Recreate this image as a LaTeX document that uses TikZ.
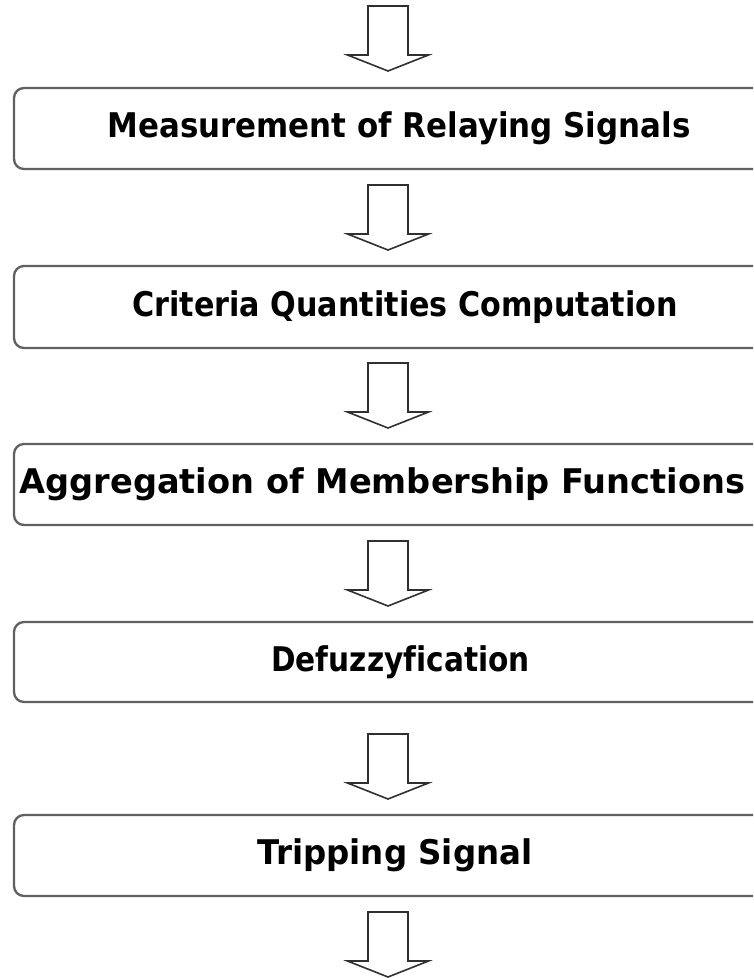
\documentclass[tikz,border=0pt]{standalone}
\usepackage{fontspec}
\setmainfont{DejaVu Sans}[Ligatures=NoCommon]
\usepackage{graphicx}
\definecolor{boxgray}{HTML}{606060}
\definecolor{arrowgray}{HTML}{303030}
\begin{document}
\begin{tikzpicture}[x=1pt,y=-1pt,
  stage/.style={draw=boxgray, line width=2.3pt, rounded corners=10pt,
    minimum width=762pt, minimum height=81pt, inner sep=0pt},
  caption/.style={inner sep=0pt, font=\fontsize{34}{40}\selectfont\bfseries},
  flow/.pic={\draw[arrowgray, line width=1.6pt, fill=white, line join=miter]
    (-20,0) -- (20,0) -- (20,49) -- (40.5,49) -- (0,65) -- (-40.5,49) -- (-20,49) -- cycle;}]
\useasboundingbox (0,0) rectangle (753,980);
\clip (0,0) rectangle (753,980);
\fill[white] (0,0) rectangle (753,980);

\node[stage] (b1) at (395,128.5) {};
\node[stage, minimum height=82pt] (b2) at (395,307) {};
\node[stage] (b3) at (395,484.5) {};
\node[stage, minimum height=80pt] (b4) at (395,662) {};
\node[stage] (b5) at (395,855.5) {};

\node[caption] (t1) at ([xshift=4pt]b1.center) {\scalebox{0.909}[1]{Measurement of Relaying Signals}};
\node[caption] (t2) at ([xshift=10pt]b2.center) {\scalebox{0.888}[1]{Criteria Quantities Computation}};
\node[caption] (t3) at ([xshift=-12.5pt]b3.center) {\scalebox{0.989}[1]{Aggregation of Membership Functions}};
\node[caption] (t4) at ([xshift=5.5pt]b4.center) {\scalebox{0.87}[1]{Defuzzyfication}};
\node[caption] (t5) at (b5.center) {\scalebox{0.955}[1]{Tripping Signal}};

\coordinate (a0) at (388,6);
\coordinate (a1) at (388,185);
\coordinate (a2) at (388,363);
\coordinate (a3) at (388,541);
\coordinate (a4) at (388,734);
\coordinate (a5) at (388,912);
\foreach \a in {a0,a1,a2,a3,a4,a5} { \pic at (\a) {flow}; }
\end{tikzpicture}
\end{document}
